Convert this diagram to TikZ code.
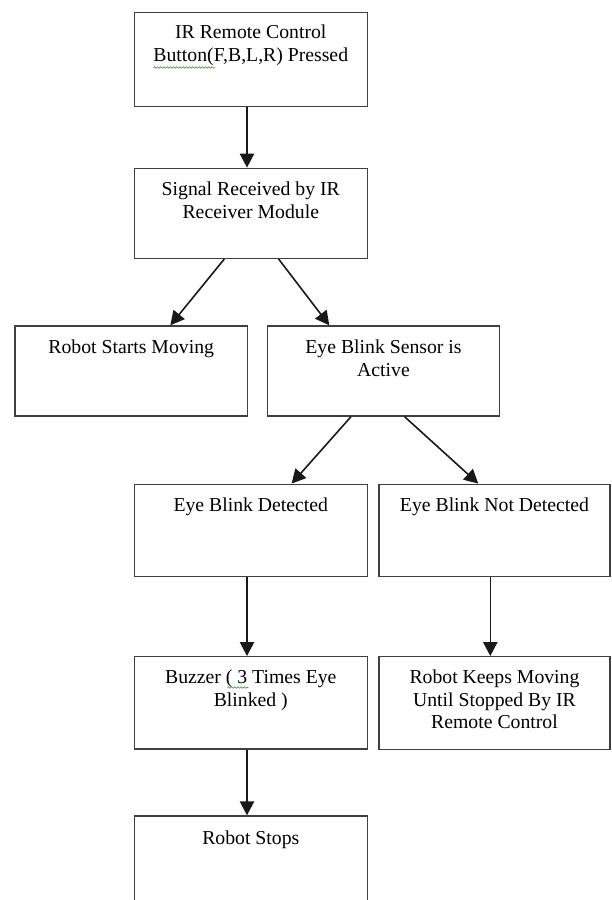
\documentclass[tikz,border=0pt]{standalone}
\usepackage{fontspec}
\setmainfont{Liberation Serif}
\usetikzlibrary{arrows.meta,calc,decorations.pathmorphing}
\definecolor{boxgray}{HTML}{404040}
\definecolor{spellgreen}{HTML}{3C9A3C}
\begin{document}
\begin{tikzpicture}[x=0.75pt,y=-0.75pt,
  box/.style 2 args={draw=boxgray,line width=1.05pt,inner sep=0pt,
    minimum width=#1*0.75pt,minimum height=#2*0.75pt},
  txt/.style={anchor=north,inner sep=0pt,align=center,
    font=\fontsize{14.8}{16.9}\selectfont},
  arr/.style={draw=black!90,line width=1.2pt,-{Triangle[length=10.5pt,width=10.75pt]}},
  spell/.style={draw=spellgreen,line width=0.45pt,decorate,
    decoration={snake,amplitude=0.6pt,segment length=2.4pt}}]
\useasboundingbox (0,0) rectangle (611,900);
\clip (0,0) rectangle (611,900);
% boxes
\node[box={233}{94}] (b1) at (250.8,59.7) {};
\node[box={233}{90}] (b2) at (250.8,213.3) {};
\node[box={232.3}{90}] (b3) at (131.2,371) {};
\node[box={232.4}{90}] (b4) at (383.5,371) {};
\node[box={233}{92}] (b5) at (250.8,530.3) {};
\node[box={231}{92}] (b6) at (494.5,530.3) {};
\node[box={233}{92.3}] (b7) at (250.8,702.85) {};
\node[box={231}{92.6}] (b8) at (494.5,703) {};
\node[box={233}{100}] (b9) at (250.8,866) {};
% texts
\node[txt] (t1) at ($(b1.north)+(0,10.8)$) {\strut IR Remote Control\\Button(F,B,L,R) Pressed};
\node[txt] (t2) at ($(b2.north)+(0,12)$) {\strut Signal Received by IR\\Receiver Module};
\node[txt] (t3) at ($(b3.north)+(0,12.3)$) {\strut Robot Starts Moving};
\node[txt] (t4) at ($(b4.north)+(0,12.3)$) {\strut Eye Blink Sensor is\\Active};
\node[txt] (t5) at ($(b5.north)+(0,12.3)$) {\strut Eye Blink Detected};
\node[txt] (t6) at ($(b6.north)+(0,12.3)$) {\strut Eye Blink Not Detected};
\node[txt] (t7) at ($(b7.north)+(0,11.8)$) {\strut Buzzer ( 3 Times Eye\\Blinked )};
\node[txt] (t8) at ($(b8.north)+(0,11.8)$) {\strut Robot Keeps Moving\\Until Stopped By IR\\Remote Control};
\node[txt] (t9) at ($(b9.north)+(0,13.3)$) {\strut Robot Stops};
% spell-check underlines
\draw[spell] (153.3,67.5) -- (215,67.5);
\draw[spell] (227.3,687.5) -- (248.3,687.5);
% arrows
\draw[arr] ($(b1.south west)+(113.4,0)$) -- ($(b2.north west)+(113.4,0)$);
\draw[arr] ($(b2.south west)+(90.7,0)$) -- ($(b3.north west)+(156,0)$);
\draw[arr] ($(b2.south west)+(145,0)$) -- ($(b4.north west)+(62.7,0)$);
\draw[arr] ($(b4.south west)+(84.4,0)$) -- ($(b5.north west)+(158,0)$);
\draw[arr] ($(b4.south west)+(138,0)$) -- ($(b6.north west)+(100,0)$);
\draw[arr] ($(b5.south west)+(113.4,0)$) -- ($(b7.north west)+(113.4,0)$);
\draw[arr] ($(b6.south west)+(112,0)$) -- ($(b8.north west)+(112,0)$);
\draw[arr] ($(b7.south west)+(113.4,0)$) -- ($(b9.north west)+(113.4,0)$);
\end{tikzpicture}
\end{document}
